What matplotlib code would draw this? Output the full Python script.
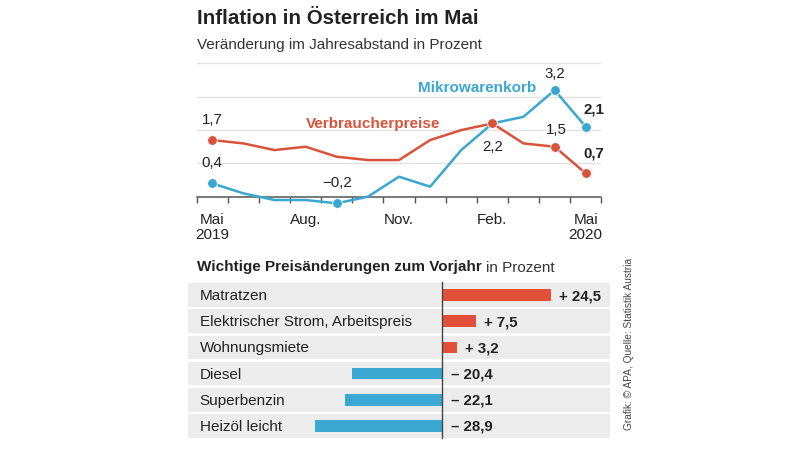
"""Inflation in Oesterreich im Mai: Linienchart plus Balken mit Preisaenderungen."""
import matplotlib

matplotlib.use("Agg")
import matplotlib.pyplot as plt  # noqa: E402
from matplotlib.ticker import FixedLocator, NullFormatter  # noqa: E402

plt.rcParams["font.family"] = ["Liberation Sans", "DejaVu Sans"]

RED = "#d9533b"
BLUE = "#3aa7d0"
BAR_RED = "#e0503a"
BAR_BLUE = "#3aa8d2"
BAND = "#ececec"
TXT = "#222222"

# Monate Mai 2019 .. Mai 2020
months = list(range(13))
month_labels = ["Mai\n2019", "Aug.", "Nov.", "Feb.", "Mai\n2020"]
label_months = [0, 3, 6, 9, 12]
vpi = [1.7, 1.6, 1.4, 1.5, 1.2, 1.1, 1.1, 1.7, 2.0, 2.2, 1.6, 1.5, 0.7]
mikro = [0.4, 0.1, -0.1, -0.1, -0.2, 0.0, 0.6, 0.3, 1.4, 2.2, 2.4, 3.2, 2.1]
vpi_marked = [0, 9, 11, 12]
mikro_marked = [0, 4, 9, 11, 12]

categories = ["Matratzen", "Elektrischer Strom, Arbeitspreis", "Wohnungsmiete",
              "Diesel", "Superbenzin", "Heizöl leicht"]
changes = [24.5, 7.5, 3.2, -20.4, -22.1, -28.9]

fig = plt.figure(figsize=(8, 4.52), dpi=100)

fig.text(197 / 800, 1 - 23.5 / 452, "Inflation in Österreich im Mai",
         fontsize=14.8, fontweight="bold", color=TXT, va="baseline")
fig.text(197 / 800, 1 - 49.5 / 452, "Veränderung im Jahresabstand in Prozent",
         fontsize=11, color="#333333", va="baseline")

# --- line chart ---
ax = fig.add_axes([196.7 / 800, 1 - 211 / 452, 404.6 / 800, 151.5 / 452])
ax.set_xlim(-0.5, 12.5)
ax.set_ylim(-0.4, 4.15)
for g in [1, 2, 3, 4]:
    ax.axhline(g, color="#e2e2e2", lw=1, zorder=0)
for s in ["top", "right", "left"]:
    ax.spines[s].set_visible(False)
ax.spines["bottom"].set_position(("data", 0))
ax.spines["bottom"].set_color("#555555")
ax.spines["bottom"].set_linewidth(1.1)
ax.spines["bottom"].set_zorder(1)
ax.set_yticks([])
ax.xaxis.set_major_locator(FixedLocator([m - 0.5 for m in range(14)]))
ax.xaxis.set_major_formatter(NullFormatter())
ax.xaxis.set_minor_locator(FixedLocator(label_months))
ax.set_xticklabels(month_labels, minor=True)
ax.tick_params(axis="x", which="major", length=4, width=1, color="#555555")
ax.tick_params(axis="x", which="minor", length=0, pad=11, labelsize=11,
               labelcolor=TXT)
for t in ax.get_xticklabels(minor=True):
    t.set_linespacing(1.12)

ax.plot(months, vpi, color=RED, lw=1.8, zorder=3)
ax.plot(months, mikro, color=BLUE, lw=1.8, zorder=2)
ax.plot([months[i] for i in mikro_marked], [mikro[i] for i in mikro_marked],
        "o", color=BLUE, ms=7, mec="white", mew=0.6, zorder=4)
ax.plot([months[i] for i in vpi_marked], [vpi[i] for i in vpi_marked],
        "o", color=RED, ms=7, mec="white", mew=0.6, zorder=5)


def fmt(v):
    return f"{v:.1f}".replace(".", ",").replace("-", "\u2212")


lab = dict(fontsize=10.8, color=TXT, ha="center", clip_on=False)
ax.annotate(fmt(vpi[0]), (0, vpi[0]), xytext=(0, 10), textcoords="offset points",
            va="bottom", **lab)
ax.annotate(fmt(mikro[0]), (0, mikro[0]), xytext=(0, 10), textcoords="offset points",
            va="bottom", **lab)
ax.annotate(fmt(mikro[4]), (4, mikro[4]), xytext=(0, 10), textcoords="offset points",
            va="bottom", **lab)
ax.annotate(fmt(vpi[9]), (9, vpi[9]), xytext=(0, -11), textcoords="offset points",
            va="top", **lab)
ax.annotate(fmt(mikro[11]), (11, mikro[11]), xytext=(0, 7), textcoords="offset points",
            va="bottom", **lab)
ax.annotate(fmt(vpi[11]), (11, vpi[11]), xytext=(1, 8), textcoords="offset points",
            va="bottom", **lab)
ax.annotate(fmt(mikro[12]), (12, mikro[12]), xytext=(6, 8), textcoords="offset points",
            va="bottom", fontweight="bold", **lab)
ax.annotate(fmt(vpi[12]), (12, vpi[12]), xytext=(6, 10), textcoords="offset points",
            va="bottom", fontweight="bold", **lab)
ax.text(10.4, 3.28, "Mikrowarenkorb", color=BLUE, fontsize=11,
        fontweight="bold", ha="right", va="center")
ax.text(3.0, 2.2, "Verbraucherpreise", color=RED, fontsize=11,
        fontweight="bold", ha="left", va="center")

# --- bar chart ---
head = fig.text(197 / 800, 1 - 271.5 / 452, "Wichtige Preisänderungen zum Vorjahr",
                fontsize=11, fontweight="bold", color=TXT, va="baseline")
fig.canvas.draw()
head_end = head.get_window_extent().x1
fig.text((head_end + 4) / 800, 1 - 271.5 / 452, "in Prozent",
         fontsize=11, color="#333333", va="baseline")

bx = fig.add_axes([188 / 800, 1 - 440 / 452, 422 / 800, 157 / 452])
xmin, xmax = -57.5, 37.9
bx.set_xlim(xmin, xmax)
bx.set_ylim(5.5, -0.5)
bx.axis("off")
rows = list(range(len(categories)))
bx.barh(rows, [xmax - xmin] * len(rows), left=xmin, height=0.91,
        color=BAND, zorder=0)
bx.barh(rows, changes, height=0.44,
        color=[BAR_RED if v > 0 else BAR_BLUE for v in changes], zorder=2)
bx.axvline(0, color="#444444", lw=1, zorder=3)
for r, (cat, v) in enumerate(zip(categories, changes)):
    bx.annotate(cat, (xmin, r), xytext=(8.5, 0), textcoords="offset points",
                fontsize=11, color=TXT, va="center", ha="left")
    sign = "+" if v > 0 else "\u2013"
    txt = f"{sign} {abs(v):.1f}".replace(".", ",")
    bx.annotate(txt, (max(v, 0), r), xytext=(6, 0), textcoords="offset points",
                fontsize=10.8, fontweight="bold", color=TXT, va="center",
                ha="left")

fig.text(629 / 800, 1 - 344 / 452, "Grafik: © APA, Quelle: Statistik Austria",
         rotation=90, fontsize=7.3, color="#444444", ha="center", va="center")

fig.savefig("out.png", dpi=100)
plt.close(fig)
